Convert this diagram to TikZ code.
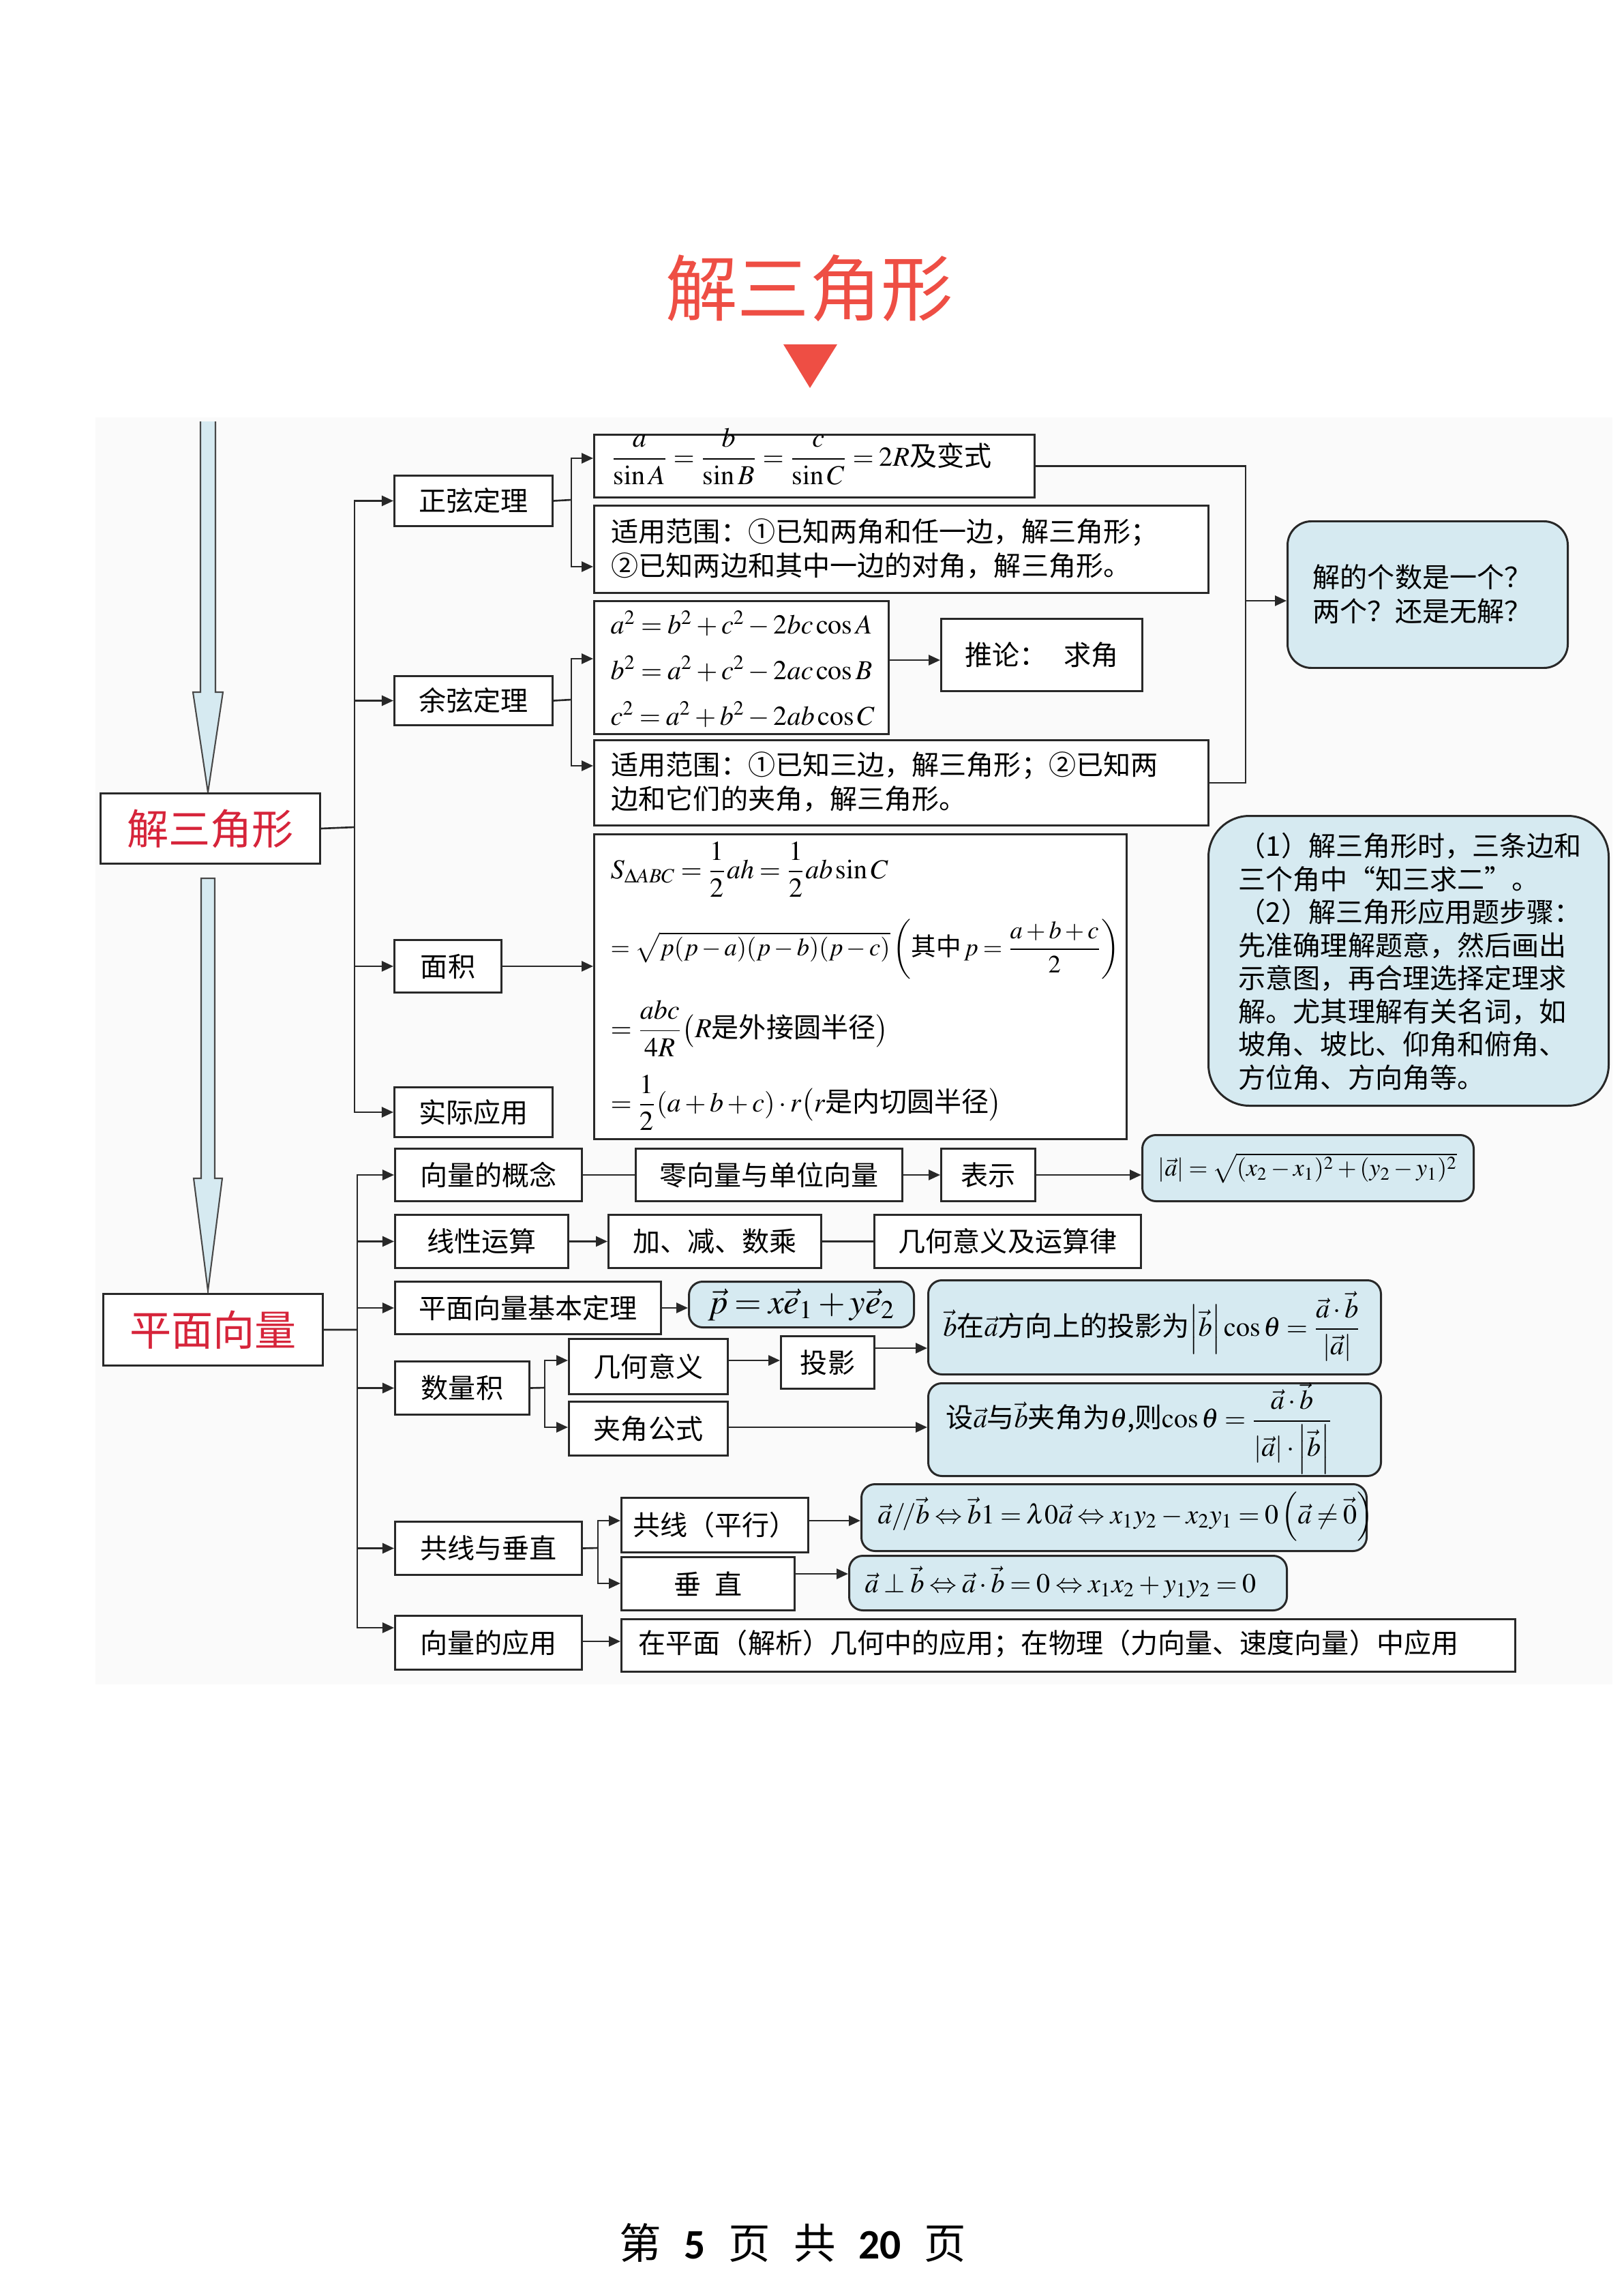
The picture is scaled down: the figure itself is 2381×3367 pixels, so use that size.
\documentclass[tikz,border=0pt]{standalone}
\usepackage{amsmath}
\usepackage{mathptmx}
\usepackage[no-math]{fontspec}
\setmainfont{Noto Sans CJK SC}
\newfontfamily\carlito{Carlito}
\usetikzlibrary{arrows.meta}
\definecolor{bluebox}{RGB}{214,234,241}
\definecolor{titlered}{RGB}{238,78,68}
\definecolor{boxred}{RGB}{214,36,58}
\definecolor{edgec}{RGB}{40,40,40}
\newcommand{\myfs}{\fontsize{11.4}{14.2}\selectfont}
\newcommand{\BX}[7]{\node[#2, anchor=north west, minimum width={(#5-#3)*0.01cm}, minimum height={(#6-#4)*0.01cm}] (#1) at (#3,#4) {#7};}
\medmuskip=2.5mu plus 1mu minus 1mu
\thickmuskip=3.5mu plus 2mu
\begin{document}
\begin{tikzpicture}[x=0.01cm, y=-0.01cm,
  box/.style={draw=edgec, line width=0.85pt, fill=white, inner sep=0pt, font=\myfs, align=center},
  bbox/.style={box, fill=bluebox, rounded corners=0.2cm},
  lbl/.style={inner sep=0pt, font=\myfs, align=left},
  conn/.style={draw=edgec, line width=0.75pt},
  arr/.style={conn, -{Triangle[length=0.17cm, width=0.15cm]}},
  bigarrow/.style={fill=bluebox, draw=edgec!85, line width=0.6pt},
]
\useasboundingbox (0,0) rectangle (2381,3367);
\fill[black!2] (140,612) rectangle (2365,2470);

% title
\node[text=titlered, font=\fontsize{30}{36}\selectfont, inner sep=0pt] (title) at (1187,423) {解三角形};
\fill[titlered] (1149,505) -- (1228,505) -- (1188,569) -- cycle;

% big arrows
\fill[bluebox] (294,618) -- (294,1015) -- (283,1015) -- (305,1162) -- (327,1015) -- (316,1015) -- (316,618) -- cycle;
\draw[edgec!85, line width=0.6pt] (294,618) -- (294,1015) -- (283,1015) -- (305,1162) -- (327,1015) -- (316,1015) -- (316,618);
\draw[bigarrow] (295,1288) -- (295,1728) -- (284,1728) -- (305,1893) -- (326,1728) -- (315,1728) -- (315,1288) -- cycle;

% main boxes
\BX{boxA}{box, font=\fontsize{17.4}{20}\selectfont, text=boxred}{146}{1162}{468}{1265}{解三角形}
\BX{boxB}{box, font=\fontsize{17.4}{20}\selectfont, text=boxred}{150}{1896}{472}{2001}{平面向量}

% ---------- upper tree ----------
\BX{zx}{box}{577}{696}{809}{770}{正弦定理}
\BX{yx}{box}{577}{990}{809}{1062}{余弦定理}
\BX{mj}{box}{577}{1377}{734}{1454}{面积}
\BX{sj}{box}{577}{1593}{809}{1666}{实际应用}

\BX{s1}{box}{870}{636}{1516}{728}{}
\node[lbl, anchor=base west] (s1t) at (895,683) {$\dfrac{a}{\sin A}=\dfrac{b}{\sin B}=\dfrac{c}{\sin C}=2R$及变式};
\BX{s2}{box}{870}{740}{1771}{868}{}
\node[lbl, anchor=west] (s2t) at (896,805) {适用范围：①已知两角和任一边，解三角形；\\②已知两边和其中一边的对角，解三角形。};
\BX{c1}{box}{870}{880}{1302}{1075}{}
\node[lbl, anchor=west, font=\fontsize{11.4}{19}\selectfont] (c1t) at (895,981) {$a^2=b^2+c^2-2bc\cos A$\\$b^2=a^2+c^2-2ac\cos B$\\$c^2=a^2+b^2-2ab\cos C$};
\BX{tl}{box}{1379}{906}{1674}{1012}{推论：\hspace{0.6em}求角}
\BX{c2}{box}{870}{1084}{1771}{1209}{}
\node[lbl, anchor=west] (c2t) at (896,1147) {适用范围：①已知三边，解三角形；②已知两\\边和它们的夹角，解三角形。};

\BX{jg}{bbox, rounded corners=0.35cm}{1887}{763}{2298}{978}{}
\node[lbl, anchor=west] (jgt) at (1925,871) {解的个数是一个？\\两个？还是无解？};

\BX{note}{bbox, rounded corners=0.6cm}{1771}{1195}{2358}{1620}{}
\node[lbl, anchor=west, font=\fontsize{11.4}{13.8}\selectfont] (notet) at (1816,1410) {（1）解三角形时，三条边和\\三个角中“知三求二”。\\（2）解三角形应用题步骤：\\先准确理解题意，然后画出\\示意图，再合理选择定理求\\解。尤其理解有关名词，如\\坡角、坡比、仰角和俯角、\\方位角、方向角等。};

\BX{mf}{box}{870}{1222}{1651}{1669}{}
\node[lbl, anchor=west] (mf1) at (895,1275) {$S_{\Delta ABC}=\dfrac{1}{2}ah=\dfrac{1}{2}ab\sin C$};
\node[lbl, anchor=west, font=\fontsize{10.4}{13}\selectfont] (mf2) at (895,1392) {$=\sqrt{p(p-a)(p-b)(p-c)}\left(\text{其中}\,p=\dfrac{a+b+c}{2}\right)$};
\node[lbl, anchor=west] (mf3) at (895,1508) {$=\dfrac{abc}{4R}\bigl(R\text{是外接圆半径}\bigr)$};
\node[lbl, anchor=west] (mf4) at (895,1617) {$=\dfrac{1}{2}(a+b+c)\cdot r\bigl(r\text{是内切圆半径}\bigr)$};

% upper connectors
\coordinate (t1) at (520,1213);
\draw[conn] (boxA.east) -- (t1);
\draw[arr] (t1) |- (zx.west);
\draw[arr] (t1) |- (yx.west);
\draw[arr] (t1) |- (mj.west);
\draw[arr] (t1) |- (sj.west);
\coordinate (j1) at (838,733);
\draw[conn] (zx.east) -- (j1);
\draw[arr] (j1) |- (s1.west |- 0,672);
\draw[arr] (j1) |- (s2.west |- 0,831);
\coordinate (j2) at (838,1026);
\draw[conn] (yx.east) -- (j2);
\draw[arr] (j2) |- (c1.west |- 0,966);
\draw[arr] (j2) |- (c2.west |- 0,1123);
\draw[arr] (c1.east |- 0,968) -- (tl.west |- 0,968);
\coordinate (r1) at (1827,881);
\draw[conn] (s1.east) -| (r1);
\draw[conn] (c2.east) -| (r1);
\draw[arr] (r1) -- (jg.west |- r1);
\draw[arr] (mj.east) -- (mf.west |- mj.east);

% ---------- lower tree ----------
\BX{gn}{box}{578}{1683}{852}{1760}{向量的概念}
\BX{lx}{box}{931}{1683}{1322}{1760}{零向量与单位向量}
\BX{bs}{box}{1379}{1683}{1517}{1760}{表示}
\BX{mo}{bbox}{1674}{1663}{2160}{1760}{}
\node[lbl, anchor=west, font=\fontsize{10.2}{12}\selectfont] (mot) at (1698,1713) {$\left|\vec{a}\right|=\sqrt{(x_2-x_1)^2+(y_2-y_1)^2}$};
\BX{xx}{box}{578}{1780}{832}{1858}{线性运算}
\BX{jj}{box}{891}{1780}{1203}{1858}{加、减、数乘}
\BX{jy}{box}{1281}{1780}{1672}{1858}{几何意义及运算律}
\BX{jb}{box}{578}{1878}{968}{1955}{平面向量基本定理}
\BX{pv}{bbox, font=\fontsize{14.5}{16}\selectfont}{1009}{1878}{1339}{1945}{$\vec{p}=x\vec{e}_1+y\vec{e}_2$}
\BX{sl}{box}{578}{1995}{775}{2073}{数量积}
\BX{jh}{box}{833}{1962}{1066}{2043}{几何意义}
\BX{ty}{box}{1144}{1958}{1281}{2035}{投影}
\BX{pj}{bbox}{1360}{1876}{2024}{2014}{}
\node[lbl, anchor=west] (pjt) at (1383,1945) {$\vec{b}$在$\vec{a}$方向上的投影为$\left|\vec{b}\right|\cos\theta=\dfrac{\vec{a}\cdot\vec{b}}{\left|\vec{a}\right|}$};
\BX{jjf}{box}{833}{2054}{1066}{2133}{夹角公式}
\BX{jf}{bbox}{1360}{2027}{2024}{2163}{}
\node[lbl, anchor=west] (jft) at (1387,2095) {设$\vec{a}$与$\vec{b}$夹角为$\theta$,则$\cos\theta=\dfrac{\vec{a}\cdot\vec{b}}{\left|\vec{a}\right|\cdot\left|\vec{b}\right|}$};
\BX{gc}{box}{578}{2230}{852}{2308}{共线与垂直}
\BX{gx}{box}{910}{2195}{1184}{2275}{共线（平行）}
\BX{cz}{box}{910}{2282}{1164}{2360}{垂\hspace{0.5em}直}
\BX{gxf}{bbox}{1262}{2175}{2003}{2273}{}
\node[lbl, anchor=west] (gxft) at (1287,2224) {$\vec{a}/\!/\vec{b}\Leftrightarrow\vec{b}1=\lambda0\vec{a}\Leftrightarrow x_1y_2-x_2y_1=0\left(\vec{a}\neq\vec{0}\right)$};
\BX{czf}{bbox}{1244}{2280}{1886}{2360}{}
\node[lbl, anchor=west] (czft) at (1268,2320) {$\vec{a}\perp\vec{b}\Leftrightarrow\vec{a}\cdot\vec{b}=0\Leftrightarrow x_1x_2+y_1y_2=0$};
\BX{yy}{box}{578}{2368}{852}{2447}{向量的应用}
\BX{yyf}{box}{910}{2373}{2221}{2450}{}
\node[lbl, anchor=west] (yyft) at (936,2411) {在平面（解析）几何中的应用；在物理（力向量、速度向量）中应用};

% lower connectors
\coordinate (t2) at (524,1950);
\draw[conn] (boxB.east) -- (t2);
\draw[arr] (t2) |- (gn.west);
\draw[arr] (t2) |- (xx.west);
\draw[arr] (t2) |- (jb.west);
\draw[arr] (t2) |- (sl.west);
\draw[arr] (t2) |- (gc.west);
\draw[arr] (t2) |- (yy.west |- 0,2387);
\draw[conn] (gn.east) -- (lx.west);
\draw[arr] (lx.east) -- (bs.west);
\draw[arr] (bs.east) -- (mo.west |- bs.east);
\draw[arr] (xx.east) -- (jj.west);
\draw[conn] (jj.east) -- (jy.west);
\draw[arr] (jb.east) -- (pv.west |- jb.east);
\coordinate (j3) at (799,2035);
\draw[conn] (sl.east) -- (j3);
\draw[arr] (j3) |- (jh.west |- 0,1995);
\draw[arr] (j3) |- (jjf.west |- 0,2093);
\draw[arr] (jh.east |- 0,1995) -- (ty.west |- 0,1995);
\draw[arr] (ty.east |- 0,1977) -- (pj.west |- 0,1977);
\draw[arr] (jjf.east |- 0,2093) -- (jf.west |- 0,2093);
\coordinate (j4) at (877,2270);
\draw[conn] (gc.east) -- (j4);
\draw[arr] (j4) |- (gx.west |- 0,2230);
\draw[arr] (j4) |- (cz.west |- 0,2322);
\draw[arr] (gx.east |- 0,2230) -- (gxf.west |- 0,2230);
\draw[arr] (cz.east |- 0,2308) -- (czf.west |- 0,2308);
\draw[arr] (yy.east |- 0,2407) -- (yyf.west |- 0,2407);

% footer
\node[font=\fontsize{17.5}{20}\selectfont, inner sep=0pt] (foot) at (1163,3289) {第\hspace{0.55em}{\carlito\bfseries 5}\hspace{0.55em}页\hspace{0.55em}共\hspace{0.55em}{\carlito\bfseries 20}\hspace{0.55em}页};
\end{tikzpicture}
\end{document}
